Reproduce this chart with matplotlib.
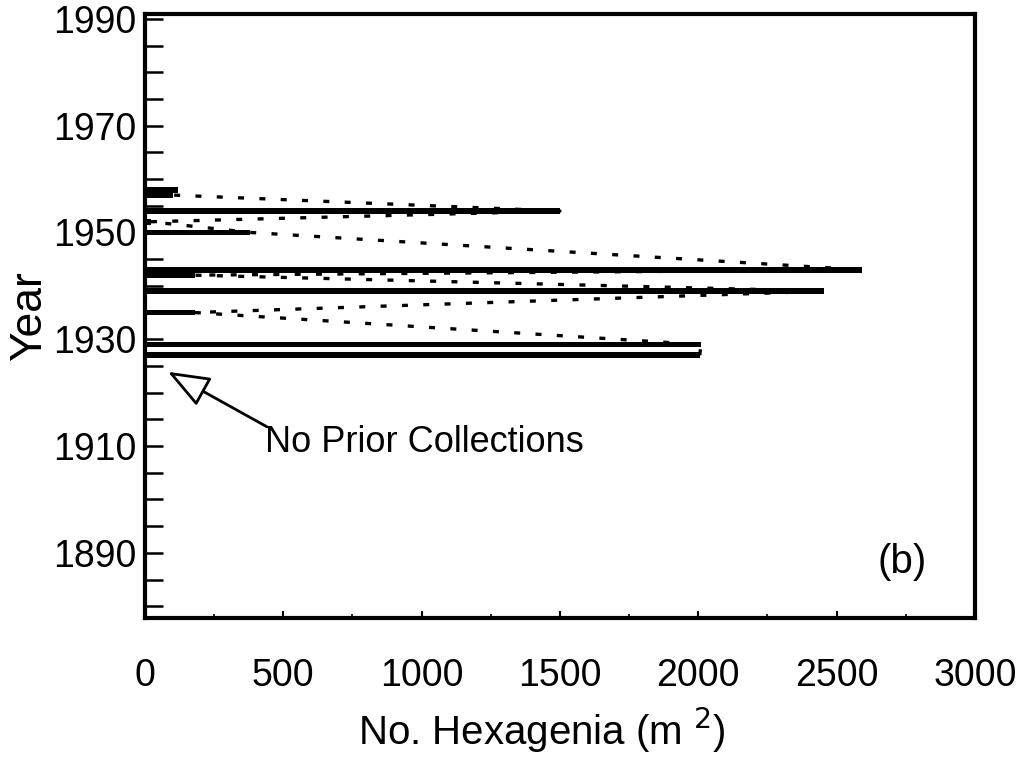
import numpy as np
import matplotlib.pyplot as plt
from matplotlib.ticker import MultipleLocator

plt.rcParams['font.family'] = ['Liberation Sans', 'DejaVu Sans']

# Datos
years = [1927, 1929, 1935, 1939, 1942, 1943, 1950, 1952, 1954, 1957, 1958]
hexagenia = [2005, 2010, 180, 2455, 180, 2590, 380, 20, 1500, 100, 120]
year_ticks = [1890, 1910, 1930, 1950, 1970, 1990]
x_ticks = [0, 500, 1000, 1500, 2000, 2500, 3000]

fig = plt.figure(figsize=(10.21, 7.79), dpi=100)
ax = fig.add_axes([0.142, 0.2067, 0.8129, 0.7753])

# barras horizontales
ax.barh(years, hexagenia, height=1.05, color='black')

# línea punteada que une los extremos
ax.plot(hexagenia, years, color='black', lw=2.4, dashes=(1.8, 4.6))

ax.set_xlim(0, 3000)
ax.set_ylim(1877.8, 1990.9)

ax.set_xticks(x_ticks)
ax.xaxis.set_minor_locator(MultipleLocator(250))
ax.set_yticks(year_ticks)
ax.yaxis.set_minor_locator(MultipleLocator(5))

ax.tick_params(axis='y', which='both', direction='in', length=13, width=1.8,
               labelsize=27, pad=6)
ax.tick_params(axis='x', which='major', direction='in', length=5, width=1.5,
               labelsize=27, pad=29)
ax.tick_params(axis='x', which='minor', direction='in', length=3, width=1.2)

for s in ax.spines.values():
    s.set_linewidth(3)

ax.set_ylabel("Year", fontsize=32)
ax.yaxis.set_label_coords(-0.115, 0.5)
ax.set_xlabel("No. Hexagenia (m $^{2}$)", fontsize=29)
ax.xaxis.set_label_coords(0.478, -0.145)

# anotación
ax.annotate('', xy=(83, 1923.9), xytext=(441, 1913.6),
            arrowprops=dict(arrowstyle='-|>,head_length=1.3,head_width=0.5',
                            lw=2, color='black', fc='white',
                            mutation_scale=20, shrinkA=0, shrinkB=0))
ax.text(434, 1910.6, "No Prior Collections", fontsize=26, ha='left', va='center')

ax.text(2736, 1888.3, "(b)", fontsize=29, ha='center', va='center')

plt.savefig("out.png", dpi=100)
